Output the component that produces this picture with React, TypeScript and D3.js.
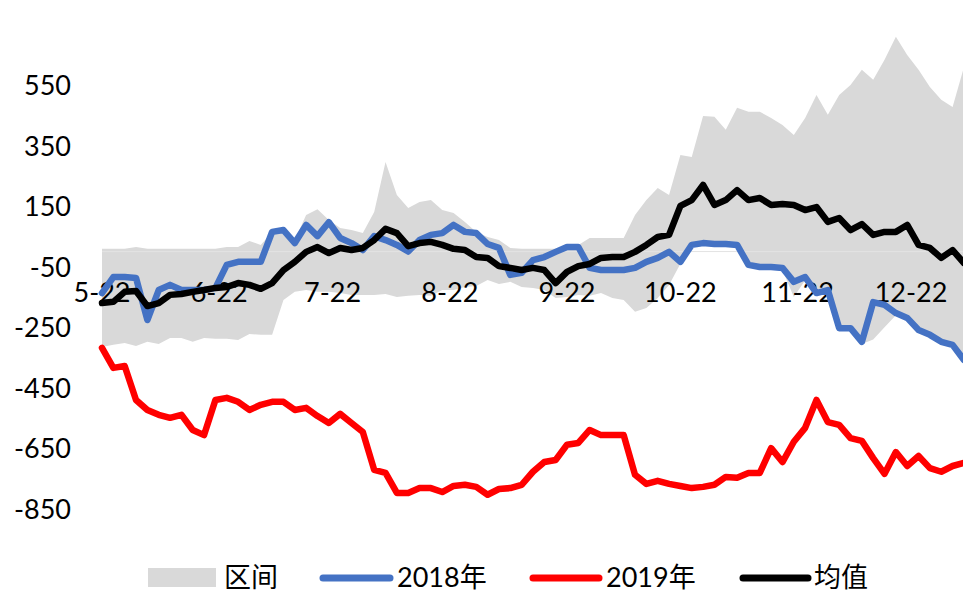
import React from "react";
import * as d3 from "d3";

// ---- data (every 3 days starting 5-22) ----
const startDate = "2020-05-22";
const stepDays = 3;

const bandUpper = [9, 9, 9, 15, 9, 9, 9, 9, 9, 9, 9, 15, 15, 35, 22, 65, 65, 38, 121, 140, 104, 78, 71, 61, 131, 296, 187, 144, 164, 170, 137, 127, 98, 65, 48, 38, 12, 9, 9, 9, 9, 18, 22, 45, 45, 45, 45, 121, 170, 210, 187, 319, 312, 448, 445, 402, 475, 462, 462, 441, 418, 385, 441, 517, 452, 517, 550, 600, 567, 633, 709, 649, 600, 543, 501, 477, 609];
const bandLower = [-315, -308, -302, -312, -298, -305, -285, -285, -298, -285, -288, -288, -292, -272, -275, -275, -160, -133, -127, -133, -133, -137, -143, -143, -143, -140, -150, -146, -143, -146, -127, -127, -117, -114, -94, -107, -100, -117, -120, -127, -153, -150, -143, -146, -137, -153, -160, -199, -186, -153, -110, -40, 15, 20, 20, 20, 15, -50, -55, -55, -60, -150, -95, -145, -135, -260, -260, -305, -290, -250, -210, -225, -265, -280, -305, -315, -365];
const series2018 = [-137, -84, -84, -87, -226, -127, -110, -127, -127, -127, -120, -44, -34, -34, -34, 65, 71, 28, 88, 51, 97, 45, 28, 5, 51, 38, 22, 0, 38, 55, 61, 88, 65, 61, 25, 12, -77, -70, -28, -18, -1, 15, 15, -54, -61, -61, -61, -54, -34, -21, -1, -34, 22, 28, 25, 25, 22, -44, -51, -51, -54, -100, -84, -137, -127, -253, -253, -298, -167, -176, -203, -219, -259, -275, -298, -308, -358];
const series2019 = [-318, -384, -378, -490, -523, -539, -549, -539, -589, -606, -490, -483, -496, -523, -506, -496, -496, -523, -516, -543, -566, -536, -566, -596, -721, -731, -797, -797, -781, -781, -794, -774, -770, -777, -803, -784, -781, -770, -727, -695, -688, -638, -632, -589, -606, -606, -606, -737, -767, -757, -767, -774, -781, -777, -770, -744, -747, -731, -731, -649, -695, -628, -582, -490, -563, -572, -616, -625, -682, -734, -662, -708, -675, -715, -727, -708, -698];
const seriesMean = [-170, -166, -133, -130, -180, -170, -143, -140, -133, -127, -120, -117, -104, -110, -123, -104, -61, -34, -1, 15, -5, 12, 5, 12, 38, 75, 61, 18, 28, 32, 22, 9, 5, -18, -21, -48, -54, -61, -54, -61, -104, -67, -48, -41, -21, -18, -18, -1, 22, 48, 55, 151, 170, 220, 154, 170, 203, 170, 177, 154, 157, 154, 137, 147, 98, 111, 71, 91, 55, 65, 65, 88, 22, 12, -21, 5, -38];

const yTicks = [550, 350, 150, -50, -250, -450, -650, -850];
const xTickDates = ["2020-05-22", "2020-06-22", "2020-07-22", "2020-08-22", "2020-09-22", "2020-10-22", "2020-11-22", "2020-12-22"];
const legendItems = ["区间", "2018年", "2019年", "均值"];

const W = 963;
const H = 593;
const FONT = "Lato, 'Noto Sans CJK SC', sans-serif";

export default function App() {
  const parse = d3.utcParse("%Y-%m-%d");
  const t0 = parse(startDate) as Date;
  const dates = bandUpper.map((_, i) => d3.utcDay.offset(t0, i * stepDays));

  const x = d3
    .scaleUtc()
    .domain([parse("2020-05-22") as Date, parse("2020-12-22") as Date])
    .range([102, 911]);
  const y = d3.scaleLinear().domain([-850, 550]).range([509, 85]);

  const area = d3
    .area<number>()
    .x((_, i) => x(dates[i]))
    .y0((_, i) => y(bandLower[i]))
    .y1((d) => y(d));

  const line = d3
    .line<number>()
    .x((_, i) => x(dates[i]))
    .y((d) => y(d));

  const fmt = d3.utcFormat("%-m-%d");
  const lines: [number[], string][] = [
    [series2018, "#4472C4"],
    [series2019, "#FF0000"],
    [seriesMean, "#000000"],
  ];

  return (
    <svg
      width={W}
      height={H}
      style={{ position: "absolute", left: 0, top: 0, background: "#fff" }}
      fontFamily={FONT}
    >
      <rect width={W} height={H} fill="#fff" />
      <path d={area(bandUpper) || ""} fill="#D9D9D9" />
      <line x1={102} x2={W} y1={y(0)} y2={y(0)} stroke="#e3e3e3" strokeWidth={1} />
      {xTickDates.map((s) => {
        const d = parse(s) as Date;
        return (
          <text key={s} x={x(d)} y={302} fontSize={27} textAnchor="middle" fill="#000">
            {fmt(d)}
          </text>
        );
      })}
      {lines.map(([data, color]) => (
        <path
          key={color}
          d={line(data) || ""}
          fill="none"
          stroke={color}
          strokeWidth={6.5}
          strokeLinejoin="round"
          strokeLinecap="round"
        />
      ))}
      {yTicks.map((v) => (
        <text key={v} x={71} y={y(v) + 10} fontSize={27} textAnchor="end" fill="#000">
          {v}
        </text>
      ))}
      {/* legend */}
      <g fontSize={27} fill="#000">
        <rect x={148} y={568} width={68} height={19} fill="#D9D9D9" />
        <text x={224} y={587}>{legendItems[0]}</text>
        <line x1={323} x2={390} y1={578} y2={578} stroke="#4472C4" strokeWidth={7} strokeLinecap="round" />
        <text x={397} y={587}>{legendItems[1]}</text>
        <line x1={533} x2={599} y1={578} y2={578} stroke="#FF0000" strokeWidth={7} strokeLinecap="round" />
        <text x={606} y={587}>{legendItems[2]}</text>
        <line x1={743} x2={808} y1={578} y2={578} stroke="#000000" strokeWidth={7} strokeLinecap="round" />
        <text x={814} y={587}>{legendItems[3]}</text>
      </g>
    </svg>
  );
}
